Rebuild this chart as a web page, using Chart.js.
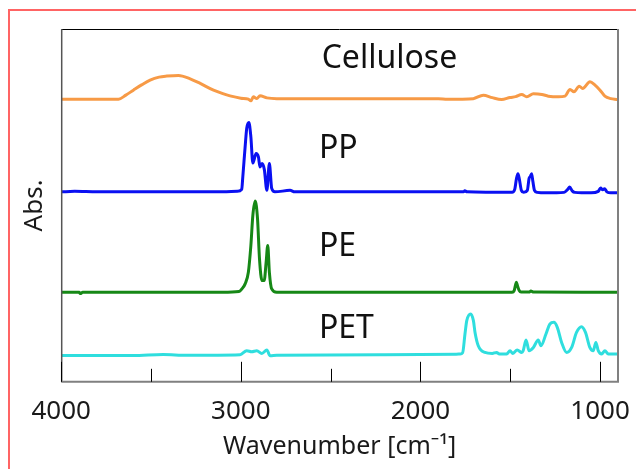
<!DOCTYPE html>
<html>
<head>
<meta charset="utf-8">
<script src="https://cdn.jsdelivr.net/npm/chart.js@4.4.1/dist/chart.umd.min.js"></script>
<style>
  html, body { margin: 0; padding: 0; background: #fff; overflow: hidden; }
  #wrap { position: relative; width: 636px; height: 469px; }
  #frame { position: absolute; left: 8px; top: 9px; width: 700px; height: 600px; border: 2px solid #ff6464; }
  #spectra { position: absolute; left: 0; top: 0; }
</style>
</head>
<body>
<div id="wrap">
  <div id="frame"></div>
  <canvas id="spectra" width="636" height="469"></canvas>
</div>
<script>
// --- Data (wavenumber in cm-1, absorbance in arbitrary stacked units) ---
const xTickValues = [4000, 3000, 2000, 1000];
const xMinorTicks = [3500, 2500, 1500];
const seriesNames = ['Cellulose', 'PP', 'PE', 'PET'];

const celluloseWn = [4000, 3900, 3800, 3700, 3681, 3640, 3598, 3550, 3505, 3455, 3412, 3347, 3282, 3226, 3152, 3100, 3060, 3000,
  2958, 2944, 2930, 2911, 2893, 2855, 2800, 2400, 1900, 1850, 1780, 1706, 1650, 1600, 1548, 1501, 1470, 1436, 1408, 1371,
  1324, 1288, 1232, 1195, 1167, 1145, 1116, 1097, 1056, 1028, 1000, 973, 940, 908, 900];
const celluloseAbs = [2.82, 2.82, 2.82, 2.82, 2.82, 2.86, 2.91, 2.965, 3.01, 3.04, 3.05, 3.057, 3.023, 2.977, 2.91, 2.875, 2.853, 2.83,
  2.82, 2.803, 2.843, 2.827, 2.853, 2.833, 2.825, 2.825, 2.825, 2.818, 2.82, 2.825, 2.86, 2.835, 2.817, 2.837, 2.845, 2.867, 2.843, 2.873,
  2.867, 2.85, 2.843, 2.85, 2.917, 2.893, 2.95, 2.927, 2.993, 2.96, 2.91, 2.85, 2.825, 2.817, 2.815];

const ppWn = [4000, 3925, 3800, 3400, 3100, 3020, 2995, 2989, 2976, 2967, 2955, 2944, 2933, 2915, 2902, 2893, 2882, 2869, 2855,
  2841, 2828, 2810, 2726, 2700, 2000, 1760, 1753, 1740, 1490, 1475, 1465, 1457, 1449, 1438, 1425, 1405, 1395, 1388, 1381, 1374,
  1365, 1350, 1300, 1200, 1180, 1169, 1155, 1140, 1050, 1010, 997, 985, 975, 962, 940, 900];
const ppAbs = [1.895, 1.9, 1.895, 1.895, 1.895, 1.9, 1.92, 2.043, 2.343, 2.53, 2.587, 2.443, 2.183, 2.277, 2.243, 2.143, 2.177, 2.117, 1.91,
  2.177, 1.93, 1.895, 1.91, 1.895, 1.895, 1.895, 1.905, 1.895, 1.89, 1.92, 2.03, 2.077, 2.02, 1.91, 1.89, 1.91, 2.03, 2.05, 2.077, 2.0,
  1.91, 1.89, 1.885, 1.89, 1.92, 1.943, 1.905, 1.89, 1.885, 1.9, 1.933, 1.915, 1.927, 1.895, 1.885, 1.885];

const peWn = [4000, 3900, 3894, 3880, 3500, 3100, 3010, 2994, 2976, 2958, 2944, 2933, 2920, 2907, 2896, 2882, 2870, 2859, 2850,
  2841, 2828, 2800, 2000, 1490, 1478, 1470, 1466, 1460, 1450, 1440, 1395, 1385, 1370, 1100, 900];
const peAbs = [0.893, 0.893, 0.88, 0.893, 0.893, 0.893, 0.9, 0.927, 0.977, 1.093, 1.36, 1.66, 1.803, 1.627, 1.227, 1.01, 1.01, 1.193, 1.36,
  1.093, 0.927, 0.893, 0.893, 0.893, 0.91, 0.97, 0.993, 0.96, 0.91, 0.895, 0.895, 0.905, 0.895, 0.893, 0.893];

const petWn = [4000, 3600, 3432, 3300, 3004, 2967, 2939, 2911, 2883, 2855, 2837, 2800, 2200, 1800, 1780, 1765, 1752, 1742, 1720,
  1705, 1696, 1678, 1641, 1600, 1576, 1560, 1520, 1501, 1487, 1461, 1436, 1428, 1412, 1395, 1371, 1344, 1329, 1301, 1279, 1257,
  1238, 1214, 1186, 1158, 1131, 1103, 1081, 1057, 1038, 1023, 1010, 991, 973, 954, 908, 900];
const petAbs = [0.262, 0.262, 0.272, 0.264, 0.27, 0.31, 0.3, 0.31, 0.283, 0.317, 0.26, 0.266, 0.27, 0.275, 0.277, 0.29, 0.477, 0.61, 0.677,
  0.61, 0.493, 0.36, 0.293, 0.283, 0.293, 0.277, 0.277, 0.31, 0.283, 0.317, 0.293, 0.31, 0.417, 0.31, 0.343, 0.417, 0.36, 0.477, 0.577, 0.593,
  0.543, 0.393, 0.293, 0.343, 0.493, 0.55, 0.493, 0.343, 0.31, 0.393, 0.31, 0.277, 0.31, 0.277, 0.277, 0.277];

// --- Helpers ---
function toPoints(wn, abs) {
    return wn.map((w, i) => ({ x: w, y: abs[i] }));
}

function makeSet(label, wn, abs, color) {
    return {
        label: label,
        data: toPoints(wn, abs),
        borderColor: color,
        borderWidth: 3,
        pointRadius: 0,
        fill: false,
        cubicInterpolationMode: 'monotone'
    };
}

// frame, inward ticks on bottom axis and the sample names
const spectraDecor = {
    id: 'spectraDecor',
    afterDraw(chart, args, opts) {
        const { ctx, chartArea: a, scales: { x, y } } = chart;
        ctx.save();

        // plot frame
        ctx.lineWidth = 1;
        ctx.strokeStyle = '#000';
        ctx.beginPath();
        ctx.moveTo(a.left, a.top + 0.5);
        ctx.lineTo(a.right, a.top + 0.5);
        ctx.stroke();
        ctx.strokeStyle = '#555';
        ctx.lineWidth = 1.5;
        ctx.beginPath();
        ctx.moveTo(a.left + 0.5, a.top);
        ctx.lineTo(a.left + 0.5, a.bottom);
        ctx.stroke();
        ctx.strokeStyle = '#808080';
        ctx.lineWidth = 2;
        ctx.beginPath();
        ctx.moveTo(a.right, a.top);
        ctx.lineTo(a.right, a.bottom);
        ctx.lineTo(a.left, a.bottom);
        ctx.stroke();

        // inward ticks
        ctx.strokeStyle = '#000';
        ctx.lineWidth = 1;
        xTickValues.forEach(v => {
            const px = Math.round(x.getPixelForValue(v)) + 0.5;
            ctx.beginPath();
            ctx.moveTo(px, a.bottom);
            ctx.lineTo(px, a.bottom - 20);
            ctx.stroke();
        });
        xMinorTicks.forEach(v => {
            const px = Math.round(x.getPixelForValue(v)) + 0.5;
            ctx.beginPath();
            ctx.moveTo(px, a.bottom);
            ctx.lineTo(px, a.bottom - 13);
            ctx.stroke();
        });

        // sample names
        ctx.fillStyle = '#111';
        ctx.font = "32px 'Noto Sans', 'DejaVu Sans', sans-serif";
        ctx.textAlign = 'left';
        ctx.textBaseline = 'alphabetic';
        opts.labels.forEach((lb, i) => {
            ctx.fillText(seriesNames[i], x.getPixelForValue(lb.x), y.getPixelForValue(lb.y));
        });
        ctx.restore();
    }
};

Chart.defaults.font.family = "'Noto Sans', 'DejaVu Sans', sans-serif";
Chart.defaults.color = '#1a1a1a';

new Chart(document.getElementById('spectra'), {
    type: 'line',
    data: {
        datasets: [
            makeSet(seriesNames[0], celluloseWn, celluloseAbs, '#f79a46'),
            makeSet(seriesNames[1], ppWn, ppAbs, '#0a10f2'),
            makeSet(seriesNames[2], peWn, peAbs, '#168816'),
            makeSet(seriesNames[3], petWn, petAbs, '#2fdede')
        ]
    },
    options: {
        responsive: false,
        devicePixelRatio: 1,
        animation: false,
        layout: { padding: { left: 10, top: 29, right: 18, bottom: 4 } },
        plugins: {
            legend: { display: false },
            tooltip: { enabled: false },
            spectraDecor: {
                labels: [
                    { x: 2550, y: 3.13 },
                    { x: 2565, y: 2.23 },
                    { x: 2565, y: 1.26 },
                    { x: 2565, y: 0.44 }
                ]
            }
        },
        scales: {
            x: {
                type: 'linear',
                reverse: true,
                min: 900,
                max: 4000,
                afterBuildTicks: (scale) => {
                    scale.ticks = xTickValues.map(v => ({ value: v }));
                },
                afterFit: (scale) => {
                    // labels may overhang the plot edges, the frame stays fixed
                    scale.paddingLeft = 0;
                    scale.paddingRight = 0;
                },
                ticks: {
                    padding: 14,
                    maxRotation: 0,
                    font: { size: 26 },
                    callback: (v) => String(v)
                },
                grid: { display: false, drawTicks: false },
                border: { display: false },
                title: {
                    display: true,
                    text: 'Wavenumber [cm\u207B\u00B9]',
                    font: { size: 25 },
                    padding: { top: -9, bottom: 3 }
                }
            },
            y: {
                type: 'linear',
                min: 0,
                max: 3.52,
                ticks: { display: false },
                grid: { display: false, drawTicks: false },
                border: { display: false },
                title: {
                    display: true,
                    text: 'Abs.',
                    font: { size: 26 },
                    padding: { top: 9, bottom: 11 }
                }
            }
        }
    },
    plugins: [spectraDecor]
});
</script>
</body>
</html>
